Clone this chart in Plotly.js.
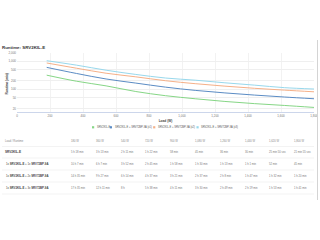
<!DOCTYPE html>
<html><head><meta charset="utf-8">
<script src="https://cdn.plot.ly/plotly-3.0.1.min.js"></script>
<style>html,body{margin:0;padding:0;background:#fff;}#c{width:320px;height:240px;}</style>
</head><body><div id="c"></div>
<script>
// ---- data ----
const loads = [180, 360, 540, 720, 900, 1080, 1260, 1440, 1620, 1800];
const seriesNames = ["SRV2KIL-E", "SRV2KIL-E + SRV72BP-9A (x1)", "SRV2KIL-E + SRV72BP-9A (x2)", "SRV2KIL-E + SRV72BP-9A (x3)"];
const rowLabels = ["<b>SRV2KIL-E</b>", "1x <b>SRV2KIL-E</b> + 1x <b>SRV72BP-9A</b>", "1x <b>SRV2KIL-E</b> + 2x <b>SRV72BP-9A</b>", "1x <b>SRV2KIL-E</b> + 3x <b>SRV72BP-9A</b>"];
const runtimeBase = [318, 193, 131, 82, 58, 45, 36, 30, 25 + 50/60, 21 + 55/60];
const runtime1x = [607, 367, 232, 165, 118, 90, 73, 61, 52, 45];
const runtime2x = [875, 567, 374, 277, 201, 157, 128, 107, 92, 80];
const runtime3x = [1055, 731, 480, 338, 251, 210, 169, 139, 113, 101];
const yTicks = [20, 50, 100, 200, 500, 1000, 2000];
const yTickText = ["20", "50", "100", "200", "500", "1,000", "2,000"];
const xTicks = [0, 200, 400, 600, 800, 1000, 1200, 1400, 1600, 1800];
const xTickText = ["0", "200", "400", "600", "800", "1,000", "1,200", "1,400", "1,600", "1,800"];
const chartTitle = "Runtime: SRV2KIL-E";
const yTitle = "Runtime (min)";
const xTitle = "Load (W)";
const tableCorner = "Load / Runtime";

// ---- styling ----
const colors = ["#86d686", "#5b8cc4", "#f5b088", "#98d8ec"];
const series = [runtimeBase, runtime1x, runtime2x, runtime3x];
const FONT = "Liberation Sans, Arial, sans-serif";
const L = 17, R = 6, T = 53, B = 128, W = 320, H = 240;
const PW = W - L - R, PH = H - T - B;
const xp = px => (px - L) / PW;
const yp = py => (H - B - py) / PH;

function fmtMin(m) {
  const totalSec = Math.round(m * 60);
  const h = Math.floor(totalSec / 3600);
  const mi = Math.floor((totalSec % 3600) / 60);
  const s = totalSec % 60;
  if (h > 0) return mi > 0 ? h + " h " + mi + " min" : h + " h";
  return s > 0 ? mi + " min " + s + " sec" : mi + " min";
}
const fmtLoad = w => w.toLocaleString("en-US") + " W";

const traces = series.map((ys, i) => ({
  type: "scatter", mode: "lines", x: loads, y: ys, name: seriesNames[i],
  line: {color: colors[i], width: 1, shape: "spline"}, hoverinfo: "skip", showlegend: false
}));

const annotations = [];
const shapes = [];
annotations.push({xref: "paper", yref: "paper", x: xp(6.5), y: yp(84), text: "<b>" + yTitle + "</b>",
  textangle: -90, showarrow: false, font: {size: 3.2, color: "#444", family: FONT}, xanchor: "center", yanchor: "middle"});

// legend (custom)
let lx = 92;
const legendY = 127.3;
seriesNames.forEach((n, i) => {
  shapes.push({type: "rect", xref: "paper", yref: "paper", x0: xp(lx), x1: xp(lx + 2.2), y0: yp(legendY + 1.1), y1: yp(legendY - 1.1),
    fillcolor: colors[i], line: {width: 0}});
  annotations.push({xref: "paper", yref: "paper", x: xp(lx + 2.8), y: yp(legendY), text: n, showarrow: false,
    xanchor: "left", yanchor: "middle", font: {size: 2.6, color: "#555", family: FONT}});
  lx += 2.8 + n.length * 1.42 + 2.2;
});

// table
const colX = loads.map((_, i) => 69 + i * 24.8);
const rowY = [152, 164, 176, 188];
const headerY = 141;
annotations.push({xref: "paper", yref: "paper", x: xp(3), y: yp(headerY), text: tableCorner, showarrow: false,
  xanchor: "left", yanchor: "middle", font: {size: 2.7, color: "#888", family: FONT}});
loads.forEach((w, j) => {
  annotations.push({xref: "paper", yref: "paper", x: xp(colX[j]), y: yp(headerY), text: fmtLoad(w), showarrow: false,
    xanchor: "left", yanchor: "middle", font: {size: 2.7, color: "#888", family: FONT}});
});
series.forEach((ys, r) => {
  annotations.push({xref: "paper", yref: "paper", x: xp(r === 0 ? 3 : 4), y: yp(rowY[r]), text: rowLabels[r], showarrow: false,
    xanchor: "left", yanchor: "middle", font: {size: r === 0 ? 3.1 : 2.8, color: "#444", family: FONT}});
  ys.forEach((v, j) => {
    annotations.push({xref: "paper", yref: "paper", x: xp(colX[j]), y: yp(rowY[r]), text: fmtMin(v), showarrow: false,
      xanchor: "left", yanchor: "middle", font: {size: 2.7, color: "#777", family: FONT}});
  });
});
[146.5, 158, 170, 182, 194].forEach(py => {
  shapes.push({type: "line", xref: "paper", yref: "paper", x0: xp(2), x1: xp(314), y0: yp(py), y1: yp(py),
    line: {color: "#f3f3f3", width: 1}});
});
shapes.push({type: "line", xref: "paper", yref: "paper", x0: xp(317.5), x1: xp(317.5), y0: yp(40), y1: yp(200),
  line: {color: "#d4d4d4", width: 1}});

const layout = {
  width: W, height: H, margin: {l: L, r: R, t: T, b: B, pad: 0},
  paper_bgcolor: "#fff", plot_bgcolor: "#fff", showlegend: false,
  font: {family: FONT, size: 3.2, color: "#777"},
  title: {text: "<b>" + chartTitle + "</b>", x: 2 / W, xanchor: "left", xref: "container",
    y: 1 - 47 / H, yanchor: "middle", yref: "container", font: {size: 4.4, color: "#333", family: FONT}},
  xaxis: {range: [0, 1800], tickvals: xTicks, ticktext: xTickText, showgrid: true, gridcolor: "#f2f2f2", gridwidth: 1,
    zeroline: false, showline: true, linecolor: "#ccd6eb", linewidth: 1, ticks: "", ticklen: 0,
    tickfont: {size: 3, color: "#777"}, automargin: false,
    title: {text: "<b>" + xTitle + "</b>", font: {size: 3.2, color: "#444"}, standoff: 3}},
  yaxis: {type: "log", range: [Math.log10(15), Math.log10(2000)], tickvals: yTicks, ticktext: yTickText,
    showgrid: true, gridcolor: "#efefef", gridwidth: 1, zeroline: false, showline: false, ticks: "",
    tickfont: {size: 3, color: "#777"}, automargin: false},
  annotations: annotations, shapes: shapes
};
Plotly.newPlot("c", traces, layout, {staticPlot: true, displayModeBar: false});
</script></body></html>
